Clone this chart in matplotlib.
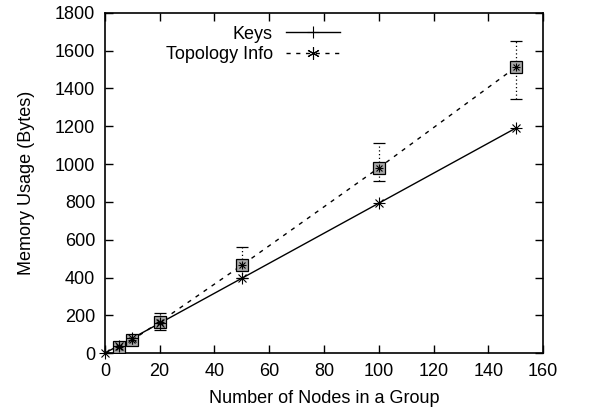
import matplotlib
matplotlib.use('Agg')
import matplotlib.pyplot as plt
from matplotlib.lines import Line2D

plt.rcParams['font.family'] = ['Liberation Sans', 'DejaVu Sans']

# data
nodes = [0, 5, 10, 20, 50, 100, 150]
keys = [0, 40, 79, 158, 396, 793, 1190]
topo = [0, 30, 70, 165, 465, 980, 1512]
topo_lo = [0, 15, 55, 120, 400, 909, 1345]
topo_hi = [0, 45, 85, 215, 560, 1110, 1649]

fig = plt.figure(figsize=(5.89, 4.15), dpi=100)
ax = fig.add_axes([0.178, 0.149, 0.744, 0.820])

# topology info: dashed line, dotted error bars, grey boxes with asterisk
err = [[t - lo for t, lo in zip(topo, topo_lo)], [hi - t for t, hi in zip(topo, topo_hi)]]
eb = ax.errorbar(nodes, topo, yerr=err, fmt='none', ecolor='black', elinewidth=0.9,
                 capsize=4, capthick=0.9, zorder=2)
for c in eb[2]:
    c.set_linestyle((0, (1, 2)))
ax.plot(nodes, topo, color='black', lw=1.0, ls=(0, (3, 4)), zorder=3)
ax.plot(nodes[1:], topo[1:], ls='none', marker='s', ms=8, mfc='#a8a8a8', mec='black',
        mew=0.9, zorder=4)
ax.plot(nodes[1:], topo[1:], ls='none', marker='+', ms=6, mec='black', mew=0.8, zorder=5)
ax.plot(nodes[1:], topo[1:], ls='none', marker='x', ms=5, mec='black', mew=0.8, zorder=5)

# keys: solid line with asterisk-like points
ax.plot(nodes, keys, color='black', lw=1.0, zorder=3)
ax.plot(nodes, keys, ls='none', marker='+', ms=8, mec='black', mew=0.8, zorder=5, clip_on=False)
ax.plot(nodes, keys, ls='none', marker='x', ms=6, mec='black', mew=0.8, zorder=5, clip_on=False)

ax.set_xlim(0, 160)
ax.set_ylim(0, 1800)
ax.set_xticks(range(0, 161, 20))
ax.set_yticks(range(0, 1801, 200))
ax.tick_params(direction='in', top=True, right=True, length=6, width=1.0,
               labelsize=13, pad=7)
for s in ax.spines.values():
    s.set_linewidth(1.2)

ax.set_xlabel('Number of Nodes in a Group', fontsize=13, labelpad=7)
ax.set_ylabel('Memory Usage (Bytes)', fontsize=13, labelpad=14)

h_keys = Line2D([], [], color='black', lw=1.0, marker='+', ms=8, mew=0.8)
h_topo = Line2D([], [], color='black', lw=1.0, ls=(0, (3, 4)), marker=(6, 2, 0), ms=9, mew=0.8)
ax.legend([h_keys, h_topo], ['Keys', 'Topology Info'], loc='upper right',
          bbox_to_anchor=(0.565, 1.0), frameon=False, markerfirst=False,
          fontsize=13, handlelength=3.0, handletextpad=0.7, labelspacing=0.2,
          borderaxespad=0.3)

fig.savefig('out.png', dpi=100)
